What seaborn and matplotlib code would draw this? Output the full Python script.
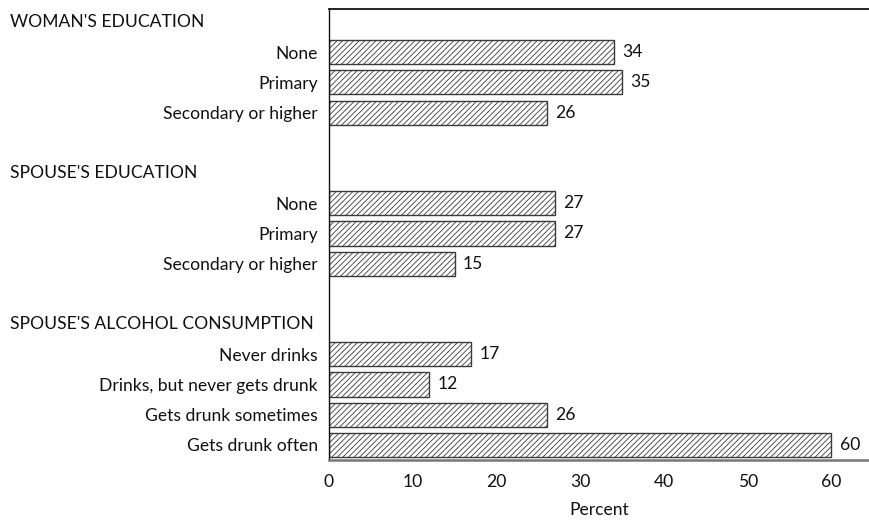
import matplotlib
matplotlib.use("Agg")
import matplotlib.pyplot as plt
import seaborn as sns
import pandas as pd

# Group headers and the categories listed under each
groups = ["WOMAN'S EDUCATION", "SPOUSE'S EDUCATION", "SPOUSE'S ALCOHOL CONSUMPTION"]
woman_edu = ["None", "Primary", "Secondary or higher"]
spouse_edu = ["None", "Primary", "Secondary or higher"]
alcohol = ["Never drinks", "Drinks, but never gets drunk",
           "Gets drunk sometimes", "Gets drunk often"]

# Percent values for each category
woman_edu_pct = [34, 35, 26]
spouse_edu_pct = [27, 27, 15]
alcohol_pct = [17, 12, 26, 60]

x_ticks = [0, 10, 20, 30, 40, 50, 60]

FS = 12.6

sns.set_theme(style="white")
plt.rcParams["font.family"] = ["Lato", "DejaVu Sans"]
plt.rcParams["hatch.linewidth"] = 0.6
plt.rcParams["hatch.color"] = "#555555"

# Build the row order: header slot, category slots, then a spacer between groups
order, labels, rows = [], [], []
blocks = [(woman_edu, woman_edu_pct), (spouse_edu, spouse_edu_pct), (alcohol, alcohol_pct)]
for gi, (cats, vals) in enumerate(blocks):
    hkey = f"h{gi}"
    order.append(hkey)
    labels.append("")
    for c, v in zip(cats, vals):
        key = f"{gi}:{c}"
        order.append(key)
        labels.append(c)
        rows.append({"key": key, "pct": v})
    if gi < len(blocks) - 1:
        order.append(f"s{gi}")
        labels.append("")

df = pd.DataFrame(rows)

fig = plt.figure(figsize=(8.7, 5.2), dpi=100)
ax = fig.add_axes([329 / 870, 1 - 460 / 520, 1 - 329 / 870, (460 - 9) / 520])

sns.barplot(data=df, x="pct", y="key", order=order, orient="h",
            color="white", edgecolor="#3a3a3a", linewidth=1.0,
            width=0.8, hatch="//////", ax=ax)

for cont in ax.containers:
    ax.bar_label(cont, labels=[f"{int(v)}" for v in df["pct"]],
                 padding=6, fontsize=FS, color="#111111")

ax.set_xlim(0, 64.6)
ax.set_ylim(14.5, -0.43)
ax.set_yticks(range(len(order)))
ax.set_yticklabels(labels, fontsize=FS, color="#111111")
ax.set_xticks(x_ticks)
ax.set_xticklabels([str(t) for t in x_ticks], fontsize=FS, color="#111111")
ax.tick_params(axis="y", length=0, pad=8)
ax.tick_params(axis="x", length=0, pad=10)
ax.set_xlabel("Percent", fontsize=FS, color="#111111", labelpad=9)
ax.set_ylabel("")

# Group headers, left-aligned near the figure edge
trans = matplotlib.transforms.blended_transform_factory(fig.transFigure, ax.transData)
for name, key in zip(groups, ["h0", "h1", "h2"]):
    ax.text(10 / 870, order.index(key), name, transform=trans,
            ha="left", va="center", fontsize=FS, color="#111111")

ax.spines["right"].set_visible(False)
ax.spines["top"].set_color("#111111")
ax.spines["top"].set_linewidth(1.3)
ax.spines["left"].set_color("#111111")
ax.spines["left"].set_linewidth(1.0)
ax.spines["bottom"].set_color("#777777")
ax.spines["bottom"].set_linewidth(1.8)

fig.savefig("out.png", dpi=100)
